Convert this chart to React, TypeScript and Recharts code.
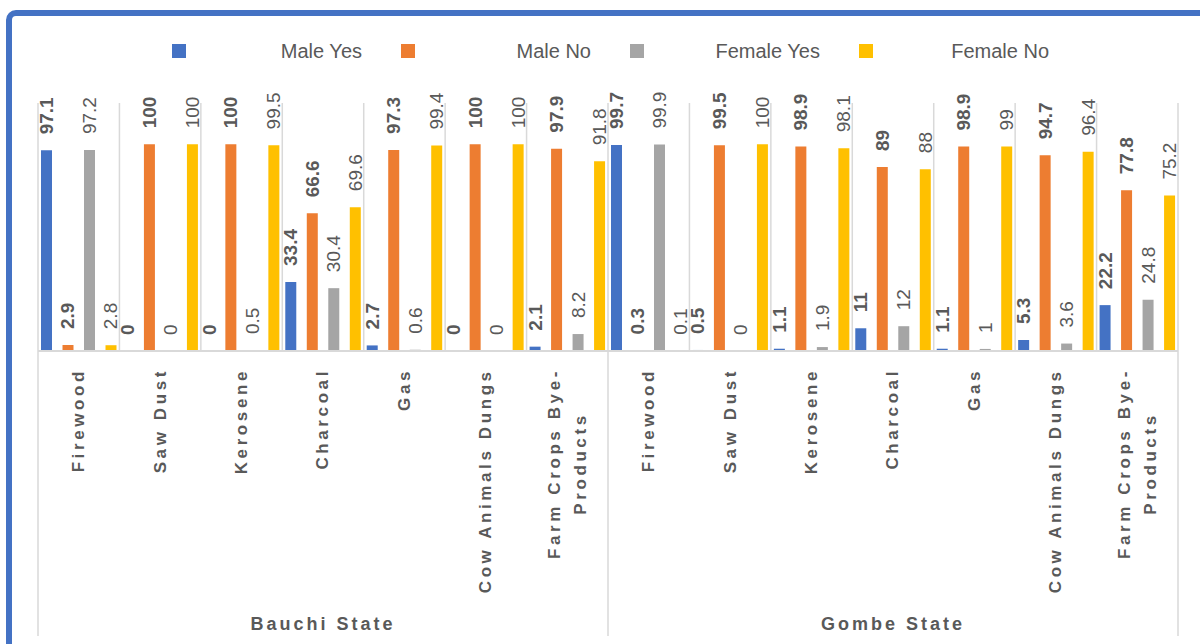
import React from 'react';
import { BarChart, Bar, XAxis, YAxis, CartesianGrid, Legend, LabelList } from 'recharts';

const states = ['Bauchi State', 'Gombe State'];
const sources = ['Firewood', 'Saw Dust', 'Kerosene', 'Charcoal', 'Gas', 'Cow Animals Dungs', 'Farm Crops Bye-Products'];

// values per category, Bauchi first then Gombe
const maleYes = [97.1, 0, 0, 33.4, 2.7, 0, 2.1, 99.7, 0.5, 1.1, 11, 1.1, 5.3, 22.2];
const maleNo = [2.9, 100, 100, 66.6, 97.3, 100, 97.9, 0.3, 99.5, 98.9, 89, 98.9, 94.7, 77.8];
const femaleYes = [97.2, 0, 0.5, 30.4, 0.6, 0, 8.2, 99.9, 0, 1.9, 12, 1, 3.6, 24.8];
const femaleNo = [2.8, 100, 99.5, 69.6, 99.4, 100, 91.8, 0.1, 100, 98.1, 88, 99, 96.4, 75.2];

const seriesKeys = ['maleYes', 'maleNo', 'femaleYes', 'femaleNo'];
const seriesNames = ['Male Yes', 'Male No', 'Female Yes', 'Female No'];
const seriesColors = ['#4472C4', '#ED7D31', '#A5A5A5', '#FFC000'];
const seriesValues = [maleYes, maleNo, femaleYes, femaleNo];

const data = states.flatMap((state, s) =>
  sources.map((source, i) => {
    const row: any = { state, source };
    seriesKeys.forEach((k, j) => {
      row[k] = seriesValues[j][s * sources.length + i];
    });
    return row;
  })
);

const W = 1200;
const H = 644;
const margin = { top: 36, right: 22, left: 38, bottom: 0 };
const FONT = '"Liberation Sans", Arial, sans-serif';
const TEXT = '#595959';
const GRID = '#D9D9D9';

let ctx: CanvasRenderingContext2D | null = null;
const measure = (s: string, font: string, spacing: number) => {
  if (!ctx) ctx = document.createElement('canvas').getContext('2d');
  if (!ctx) return s.length * 10;
  ctx.font = font;
  return ctx.measureText(s).width + spacing * s.length;
};

const wrap = (label: string, font: string, spacing: number, maxW: number) => {
  const tokens = label.match(/[^\s-]+-?\s*/g) || [label];
  const lines: string[] = [];
  let cur = '';
  tokens.forEach((t) => {
    const next = cur + t;
    if (cur && measure(next.trim(), font, spacing) > maxW) {
      lines.push(cur.trim());
      cur = t;
    } else {
      cur = next;
    }
  });
  if (cur) lines.push(cur.trim());
  return lines;
};

const CategoryTick = (props: any) => {
  const { x, y, payload, index } = props;
  const half = payload?.offset || (W - margin.left - margin.right) / data.length / 2;
  const row = data[index];
  const font = `bold 17px ${FONT}`;
  const lines = wrap(String(payload.value), font, 3.6, 235);
  const widths = lines.map((l) => measure(l, font, 3.6));
  const cy = y + 17 + Math.max(...widths) / 2;
  const n = sources.length;
  const isFirst = index % n === 0;
  const isLast = index === data.length - 1;
  return (
    <g>
      {lines.map((l, i) => {
        const lx = x + (i - (lines.length - 1) / 2) * 26;
        return (
          <text
            key={i}
            x={lx}
            y={cy}
            transform={`rotate(-90 ${lx} ${cy})`}
            textAnchor="middle"
            dominantBaseline="central"
            fontFamily={FONT}
            fontSize={17}
            fontWeight={700}
            letterSpacing={3.6}
            fill={TEXT}
          >
            {l}
          </text>
        );
      })}
      {isFirst && (
        <>
          <line x1={x - half} x2={x - half} y1={y} y2={y + 285} stroke={GRID} strokeWidth={1.5} />
          <text
            x={x - half + n * half}
            y={y + 279}
            textAnchor="middle"
            fontFamily={FONT}
            fontSize={18}
            fontWeight={700}
            letterSpacing={3}
            fill={TEXT}
          >
            {row.state}
          </text>
        </>
      )}
      {isLast && <line x1={x + half} x2={x + half} y1={y} y2={y + 285} stroke={GRID} strokeWidth={1.5} />}
    </g>
  );
};

const makeLabel = (key: string, bold: boolean) => (p: any) => {
  const cx = Number(p.x) + Number(p.width) / 2;
  const ty = Number(p.y) - 16;
  const v = p.index != null && data[p.index] ? data[p.index][key] : p.value;
  return (
    <text
      x={cx}
      y={ty}
      transform={`rotate(-90 ${cx} ${ty})`}
      textAnchor="start"
      dominantBaseline="central"
      fontFamily={FONT}
      fontSize={19}
      fontWeight={bold ? 700 : 400}
      fill={TEXT}
    >
      {String(v)}
    </text>
  );
};

// legend entries: swatch on the left, name right-aligned in the slot
const LegendContent = () => (
  <div style={{ width: W, height: 67, position: 'relative', fontFamily: FONT }}>
    <div style={{ display: 'flex', alignItems: 'center', height: 30, paddingLeft: 172 }}>
      {seriesNames.map((name, i) => (
        <div
          key={name}
          style={{ width: 190, marginRight: 39, display: 'flex', alignItems: 'center', justifyContent: 'space-between' }}
        >
          <span style={{ width: 14, height: 14, background: seriesColors[i], flex: 'none' }} />
          <span style={{ fontSize: 20, color: TEXT, whiteSpace: 'nowrap' }}>{name}</span>
        </div>
      ))}
    </div>
  </div>
);

const App = () => {
  return (
    <div style={{ position: 'absolute', left: 0, top: 0, width: W, height: H, background: '#fff', overflow: 'hidden' }}>
      <div
        style={{
          position: 'absolute',
          left: 6,
          top: 10,
          width: 1300,
          height: 700,
          border: '6px solid #4472C4',
          borderRadius: 10,
        }}
      />
      <div style={{ position: 'absolute', left: 0, top: 0 }}>
        <BarChart width={W} height={H} data={data} margin={margin} barSize={11} barGap={10.5}>
          <CartesianGrid
            horizontal={false}
            stroke={GRID}
            strokeWidth={1.5}
            verticalCoordinatesGenerator={({ offset }: any) =>
              Array.from({ length: data.length + 1 }, (_, i) => offset.left + (i * offset.width) / data.length)
            }
          />
          <XAxis
            dataKey="source"
            interval={0}
            height={293}
            tickLine={false}
            tickSize={0}
            tickMargin={0}
            axisLine={{ stroke: GRID, strokeWidth: 2 }}
            tick={<CategoryTick />}
          />
          <YAxis hide domain={[0, 120]} />
          <Legend verticalAlign="top" align="left" wrapperStyle={{ left: 0, width: W }} content={<LegendContent />} />
          {seriesKeys.map((k, i) => (
            <Bar
              key={k}
              dataKey={k}
              name={seriesNames[i]}
              fill={seriesColors[i]}
              minPointSize={0.01}
              isAnimationActive={false}
            >
              <LabelList dataKey={k} content={makeLabel(k, i < 2)} />
            </Bar>
          ))}
        </BarChart>
      </div>
    </div>
  );
};

export default App;
